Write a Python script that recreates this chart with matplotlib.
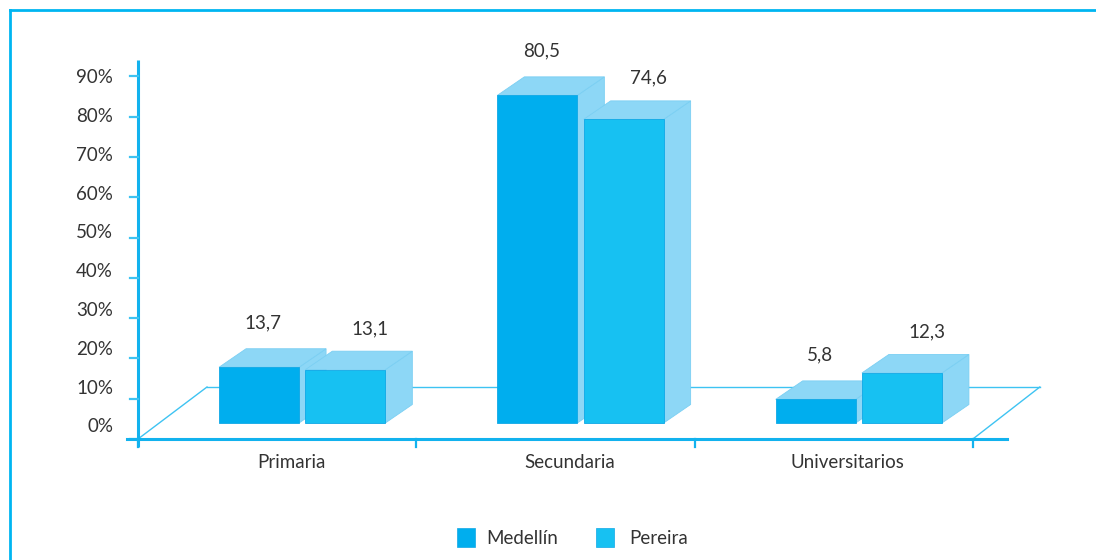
import matplotlib
matplotlib.use("Agg")
from matplotlib import pyplot as plt
from matplotlib.patches import Polygon, Rectangle
from matplotlib.lines import Line2D

# nivel educativo por ciudad, porcentajes
categorias = ["Primaria", "Secundaria", "Universitarios"]
medellin = [13.7, 80.5, 5.8]
pereira = [13.1, 74.6, 12.3]
etiquetas_y = ["0%", "10%", "20%", "30%", "40%", "50%", "60%", "70%", "80%", "90%"]

plt.rcParams["font.family"] = ["Lato", "DejaVu Sans"]

AZUL = "#12B2EE"
COL_MED = "#00AEEE"
COL_PER = "#17C1F2"
COL_CARA = "#8DD7F6"
TEXTO = "#333333"
FS = 13.5

W, H = 1096, 560
fig = plt.figure(figsize=(W / 100, H / 100), dpi=100)
fig.patch.set_facecolor("white")

# axes: y axis at x=138px, zero at y=439px
px_x = 278.3   # pixels per category
px_y = 4.07    # pixels per percent
left, bottom, top_px, right_px = 138, 439, 60, 1045
ax = fig.add_axes([left / W, (H - bottom) / H, (right_px - left) / W, (bottom - top_px) / H])
ax.set_xlim(0, (right_px - left) / px_x)
ax.set_ylim(0, (bottom - top_px) / px_y)
for s in ax.spines.values():
    s.set_visible(False)
ax.set_xticks([])
ax.set_yticks([])
ax.patch.set_alpha(0)

# vertical axis, ticks and labels
ax.plot([0, 0], [-8 / px_y, ax.get_ylim()[1]], color=AZUL, lw=2.2, clip_on=False, solid_capstyle="butt")
tick_px = 40.3
lab_px = 38.8
for i, lab in enumerate(etiquetas_y):
    ty = i * tick_px / px_y
    ax.plot([-8 / px_x, 0], [ty, ty], color="#3EC3F2", lw=1.6, clip_on=False)
    ly = (12 + i * lab_px) / px_y
    ax.text(-25 / px_x, ly, lab, ha="right", va="center", fontsize=FS, color=TEXTO)

# floor
fdx, fdy = 69 / px_x, 52 / px_y
n = len(categorias)
ax.plot([-11 / px_x, n + 34 / px_x], [0, 0], color=AZUL, lw=2.2, clip_on=False, zorder=3)
ax.plot([0, fdx], [0, fdy], color="#3EC3F2", lw=1.0, clip_on=False, zorder=0.5)
ax.plot([n, n + fdx * 0.97], [0, fdy], color="#3EC3F2", lw=1.0, clip_on=False, zorder=0.5)
ax.plot([fdx, n + fdx * 0.97], [fdy, fdy], color="#3EC3F2", lw=1.0, clip_on=False, zorder=0.5)
for i in range(n + 1):
    ax.plot([i, i], [0, -8 / px_y], color=AZUL, lw=1.6, clip_on=False)
for i, c in enumerate(categorias):
    ax.text(i + 0.55, -23 / px_y, c, ha="center", va="center", fontsize=FS, color=TEXTO)

# 3d bars
base = 16 / px_y
bw = 80 / px_x
ddx, ddy = 27 / px_x, 18.5 / px_y


def barra(x0, v, color):
    t = base + v
    ax.add_patch(Polygon([(x0 + bw, base), (x0 + bw + ddx, base + ddy), (x0 + bw + ddx, t + ddy), (x0 + bw, t)],
                         closed=True, facecolor=COL_CARA, edgecolor="#7ACFF3", lw=0.6, clip_on=False, zorder=1))
    ax.add_patch(Polygon([(x0, t), (x0 + bw, t), (x0 + bw + ddx, t + ddy), (x0 + ddx, t + ddy)],
                         closed=True, facecolor=COL_CARA, edgecolor="#7ACFF3", lw=0.6, clip_on=False, zorder=1))
    ax.add_patch(Rectangle((x0, base), bw, v, facecolor=color, edgecolor="#0FA8E6", lw=0.6,
                           clip_on=False, zorder=1))
    return t + ddy


for i in range(n):
    xm = i + 0.435 - bw / 2
    xp = i + 0.745 - bw / 2
    tm = barra(xm, medellin[i], COL_MED)
    tp = barra(xp, pereira[i], COL_PER)
    ax.text(i + 0.45, tm + 6.3, f"{medellin[i]:.1f}".replace(".", ","), ha="center", va="center",
            fontsize=FS, color=TEXTO)
    ax.text(i + 0.835, tp + 5.6, f"{pereira[i]:.1f}".replace(".", ","), ha="center", va="center",
            fontsize=FS, color=TEXTO)

# legend
for x0, color, lab in [(457, COL_MED, "Medellín"), (596, COL_PER, "Pereira")]:
    fig.add_artist(Rectangle((x0 / W, (H - 547) / H), 18 / W, 19 / H, transform=fig.transFigure,
                             facecolor=color, edgecolor="#0FA8E6", lw=0.5))
    fig.text((x0 + 29 if lab == "Medellín" else x0 + 33) / W, (H - 538) / H, lab, ha="left", va="center",
             fontsize=FS, color=TEXTO)

# outer frame
fig.add_artist(Line2D([10 / W, 10 / W], [0, 1 - 10 / H], color="#00B5F1", lw=2, transform=fig.transFigure))
fig.add_artist(Line2D([10 / W, 1], [1 - 10 / H, 1 - 10 / H], color="#00B5F1", lw=2, transform=fig.transFigure))

fig.savefig("out.png", dpi=100)
